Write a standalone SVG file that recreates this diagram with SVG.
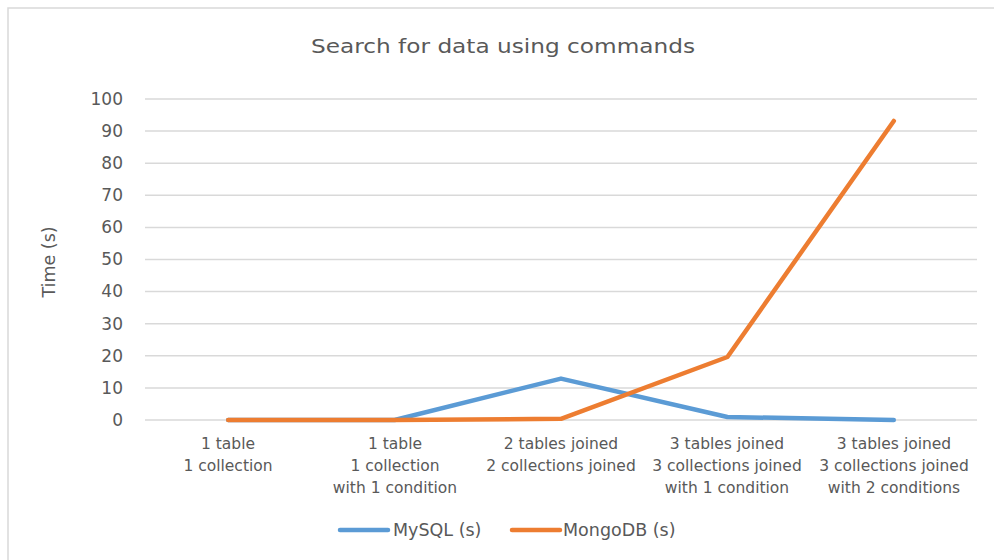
<svg xmlns="http://www.w3.org/2000/svg" width="994" height="560" viewBox="0 0 994 560">
<style>
text{font-family:"DejaVu Sans","Open Sans",sans-serif;fill:#595959}
.grid{stroke:#D9D9D9;stroke-width:1.5}
.ylab{font-size:17px;text-anchor:end}
.xlab{font-size:15.5px;text-anchor:middle}
.leg{font-size:17.5px}
.s{fill:none;stroke-width:4.5;stroke-linecap:round;stroke-linejoin:round}
</style>
<rect x="0" y="0" width="994" height="560" fill="#ffffff"/>
<rect x="8" y="8" width="1000" height="600" fill="#ffffff" stroke="#D9D9D9" stroke-width="1.5"/>
<text x="503" y="53" font-size="19.5" text-anchor="middle" textLength="384" lengthAdjust="spacingAndGlyphs">Search for data using commands</text>
<g id="gridlines">
<line class="grid" x1="145" y1="99" x2="977" y2="99"/>
<line class="grid" x1="145" y1="131.1" x2="977" y2="131.1"/>
<line class="grid" x1="145" y1="163.2" x2="977" y2="163.2"/>
<line class="grid" x1="145" y1="195.3" x2="977" y2="195.3"/>
<line class="grid" x1="145" y1="227.4" x2="977" y2="227.4"/>
<line class="grid" x1="145" y1="259.5" x2="977" y2="259.5"/>
<line class="grid" x1="145" y1="291.6" x2="977" y2="291.6"/>
<line class="grid" x1="145" y1="323.7" x2="977" y2="323.7"/>
<line class="grid" x1="145" y1="355.8" x2="977" y2="355.8"/>
<line class="grid" x1="145" y1="387.9" x2="977" y2="387.9"/>
<line class="grid" x1="145" y1="420" x2="977" y2="420"/>
</g>
<g id="y-axis-labels">
<text class="ylab" x="123" y="105">100</text>
<text class="ylab" x="123" y="137">90</text>
<text class="ylab" x="123" y="169">80</text>
<text class="ylab" x="123" y="201">70</text>
<text class="ylab" x="123" y="233">60</text>
<text class="ylab" x="123" y="265">50</text>
<text class="ylab" x="123" y="297">40</text>
<text class="ylab" x="123" y="330">30</text>
<text class="ylab" x="123" y="362">20</text>
<text class="ylab" x="123" y="394">10</text>
<text class="ylab" x="123" y="426">0</text>
</g>
<text transform="translate(55,262) rotate(-90)" font-size="17.5" text-anchor="middle">Time (s)</text>
<g id="x-axis-labels">
<text class="xlab" x="228" y="449">1 table</text>
<text class="xlab" x="228" y="471">1 collection</text>
<text class="xlab" x="395" y="449">1 table</text>
<text class="xlab" x="395" y="471">1 collection</text>
<text class="xlab" x="395" y="493">with 1 condition</text>
<text class="xlab" x="561" y="449">2 tables joined</text>
<text class="xlab" x="561" y="471">2 collections joined</text>
<text class="xlab" x="727" y="449">3 tables joined</text>
<text class="xlab" x="727" y="471">3 collections joined</text>
<text class="xlab" x="727" y="493">with 1 condition</text>
<text class="xlab" x="894" y="449">3 tables joined</text>
<text class="xlab" x="894" y="471">3 collections joined</text>
<text class="xlab" x="894" y="493">with 2 conditions</text>
</g>
<g id="connectors">
<polyline id="mysql" class="s" stroke="#5B9BD5" points="228.2,420 394.6,420 561,378.6 727.4,417 893.8,420"/>
<polyline id="mongodb" class="s" stroke="#ED7D31" points="228.2,420 394.6,420 561,418.8 727.4,357 893.8,121"/>
</g>
<g id="legend">
<line x1="340" y1="530" x2="388" y2="530" stroke="#5B9BD5" stroke-width="4.5" stroke-linecap="round"/>
<text class="leg" x="393" y="536">MySQL (s)</text>
<line x1="512" y1="530" x2="560" y2="530" stroke="#ED7D31" stroke-width="4.5" stroke-linecap="round"/>
<text class="leg" x="563" y="536">MongoDB (s)</text>
</g>
</svg>
